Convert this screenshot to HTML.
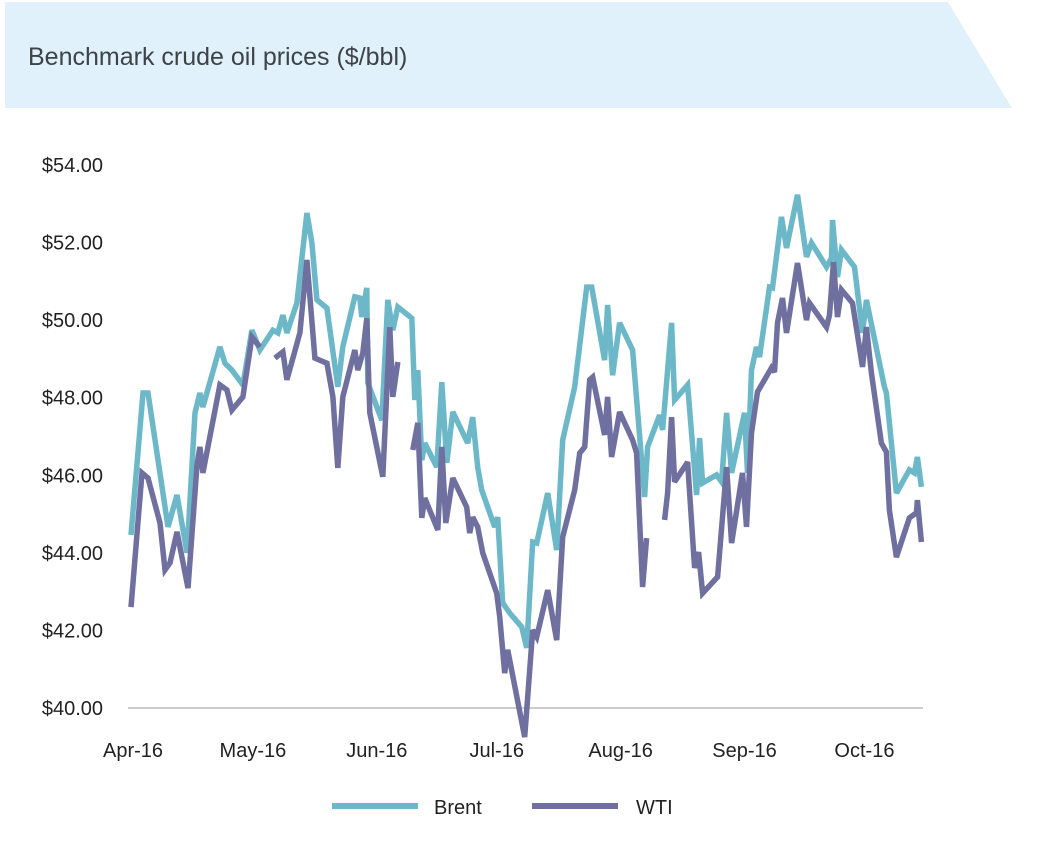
<!DOCTYPE html>
<html><head><meta charset="utf-8">
<style>
body{margin:0;background:#fff;width:1045px;height:854px;overflow:hidden;font-family:"Liberation Sans",sans-serif;}
svg text{font-family:"Liberation Sans",sans-serif;}
</style></head>
<body>
<svg id="chart" width="1045" height="854">
  <polygon points="5,2 948,2 1012,108 5,108" fill="#e0f1fb"/>
  <text x="28" y="65" font-size="25" fill="#3e4249">Benchmark crude oil prices ($/bbl)</text>
  <g id="yaxis"></g><g id="xaxis"></g><g id="series"></g>
  <g>
    <line x1="332" y1="806" x2="418" y2="806" stroke="#6cb8c9" stroke-width="6"/>
    <text x="434" y="814" font-size="20" fill="#222">Brent</text>
    <line x1="532" y1="806" x2="618" y2="806" stroke="#6f6fa0" stroke-width="6"/>
    <text x="636" y="814" font-size="20" fill="#222">WTI</text>
  </g>
</svg>
<script>
const yTicks=[40,42,44,46,48,50,52,54];
const monthLabels=["Apr-16","May-16","Jun-16","Jul-16","Aug-16","Sep-16","Oct-16"];
const monthStartDays=[0,30,61,91,122,153,183];
const brentDays=[-0.5,2.5,3.75,8.75,11,13.5,15.5,16.75,17.5,21.75,23,24.75,27.5,29.75,31.75,35,36.25,37.5,38.5,41,43.5,44.75,46,48.5,51.25,52.5,55.5,56.75,57.25,58.5,58.75,62.25,63.75,65,66.25,69.75,70.5,71.25,72.25,73,76,77.25,78.5,80,83.75,85,86.25,87.25,90.5,91.25,92.5,94.25,97.25,98.5,100,101,103.75,106,107.5,110.5,113.5,114.75,118,118.75,120,121.75,125,128,128.75,131.75,132.5,134.75,135.5,138.75,141,141.75,142.5,146,147.25,148.5,149.75,153,153.75,154.75,156,156.75,159.25,160,162.25,163.5,166.25,168.5,169.75,173.5,174.75,175,176.25,177.25,180.5,182.5,183.5,188,188.5,191,194.25,195.5,196.25,197.25];
const brentPrices=[44.46,48.12,48.12,44.67,45.49,44.00,47.61,48.12,47.76,49.31,48.89,48.71,48.33,49.74,49.23,49.74,49.67,50.13,49.67,50.44,52.76,51.99,50.52,50.31,48.28,49.31,50.60,50.57,50.08,50.83,48.38,47.42,50.52,49.74,50.34,50.05,47.94,48.71,46.39,46.83,46.21,48.40,46.32,47.63,46.83,47.50,46.21,45.62,44.67,44.92,42.71,42.45,42.09,41.55,44.28,44.25,45.54,44.07,46.91,48.28,50.85,50.85,48.97,50.39,48.58,49.93,49.23,45.44,46.73,47.55,47.17,49.93,47.94,48.33,45.49,46.96,45.80,46.01,45.83,47.61,46.06,47.61,46.06,48.71,49.31,49.05,50.85,50.83,52.66,51.86,53.23,51.63,51.99,51.37,51.60,52.58,51.11,51.81,51.37,49.67,50.52,48.28,48.12,45.54,46.14,46.06,46.47,45.70];
const wtiDays=[-0.5,2.25,3.75,6.75,8,9.25,11,13.75,16,16.75,17.5,21.75,23.5,24.75,27.5,29.75,31.75,33,35.5,37.5,38.5,41.75,43.5,45.5,48.5,50,51.25,52.5,55.5,56.25,57.5,58.5,59.25,62.5,64.25,65,66.25,68,70,71.25,72.25,73,76.25,77.25,78.25,80,83.5,84.25,85,86.25,87.5,91,91.75,93,93.75,98,100,101,103.75,106,107.5,110.5,111.75,113,114.25,115,118,118.75,119.75,121.75,125,126,127.5,128.5,130,133,133.75,134.75,135.5,138.75,140.5,141.5,142.5,146.25,148.5,149.75,152.5,153.5,154.75,156.25,159.75,160.5,161.25,162.5,163.5,166.25,168.5,169.25,173.5,174.25,175.25,176.25,177.25,180,182.5,183.5,184.75,187.25,188.5,189.25,191,194.25,196,196.25,197.25];
const wtiPrices=[42.6,46.06,45.93,44.77,43.56,43.74,44.54,43.09,46.26,46.73,46.06,48.33,48.20,47.68,48.02,49.56,49.31,null,49.02,49.18,48.46,49.67,51.55,49.02,48.89,48.02,46.19,48.02,49.23,48.71,49.15,50.05,47.61,45.96,49.82,48.02,48.92,null,46.65,47.35,44.90,45.41,44.59,46.73,44.77,45.93,45.18,44.51,44.92,44.67,44.00,42.96,42.35,40.90,41.50,39.25,42.01,41.83,43.04,41.75,44.41,45.62,46.57,46.73,48.46,48.53,47.04,48.02,46.47,47.63,46.91,46.57,43.12,44.38,null,44.85,45.54,47.50,45.83,46.34,43.61,44.02,42.96,43.38,46.21,44.25,46.06,44.67,47.09,48.15,48.77,48.66,49.93,50.57,49.67,51.47,50.00,50.44,49.82,50.13,51.50,50.08,50.78,50.44,48.79,49.82,48.64,46.83,46.60,45.10,43.89,44.90,45.03,45.36,44.28];

const NS="http://www.w3.org/2000/svg";
const x=d=>133+d*3.997;
const y=v=>708-(v-40)*38.79;
function mk(tag,attrs,parent){const e=document.createElementNS(NS,tag);for(const k in attrs)e.setAttribute(k,attrs[k]);parent.appendChild(e);return e;}
const ya=document.getElementById('yaxis'),xa=document.getElementById('xaxis'),sg=document.getElementById('series');
yTicks.forEach(v=>{
  const t=mk('text',{x:103,y:y(v)+7,'font-size':20,'text-anchor':'end',fill:'#222'},ya);
  
  
  t.textContent='$'+v.toFixed(2);
});
const axl=mk('line',{x1:128,y1:708,x2:923,y2:708,stroke:'#999','stroke-width':1},xa);


monthLabels.forEach((m,i)=>{
  const t=mk('text',{x:x(monthStartDays[i]),y:757,'font-size':20,'text-anchor':'middle',fill:'#222'},xa);
  
  
  t.textContent=m;
});
function draw(days,prices,color,name){
  let d='',pen=false;
  days.forEach((dd,i)=>{const v=prices[i];if(v==null){pen=false;return;}d+=(pen?'L':'M')+x(dd).toFixed(1)+','+y(v).toFixed(1);pen=true;});
  const p=mk('path',{d:d,fill:'none',stroke:color,'stroke-width':5.5,'stroke-linejoin':'miter','stroke-miterlimit':3},sg);
  
  
}
draw(brentDays,brentPrices,'#6cb8c9','brent-line');
draw(wtiDays,wtiPrices,'#6f6fa0','wti-line');
</script>
</body></html>
